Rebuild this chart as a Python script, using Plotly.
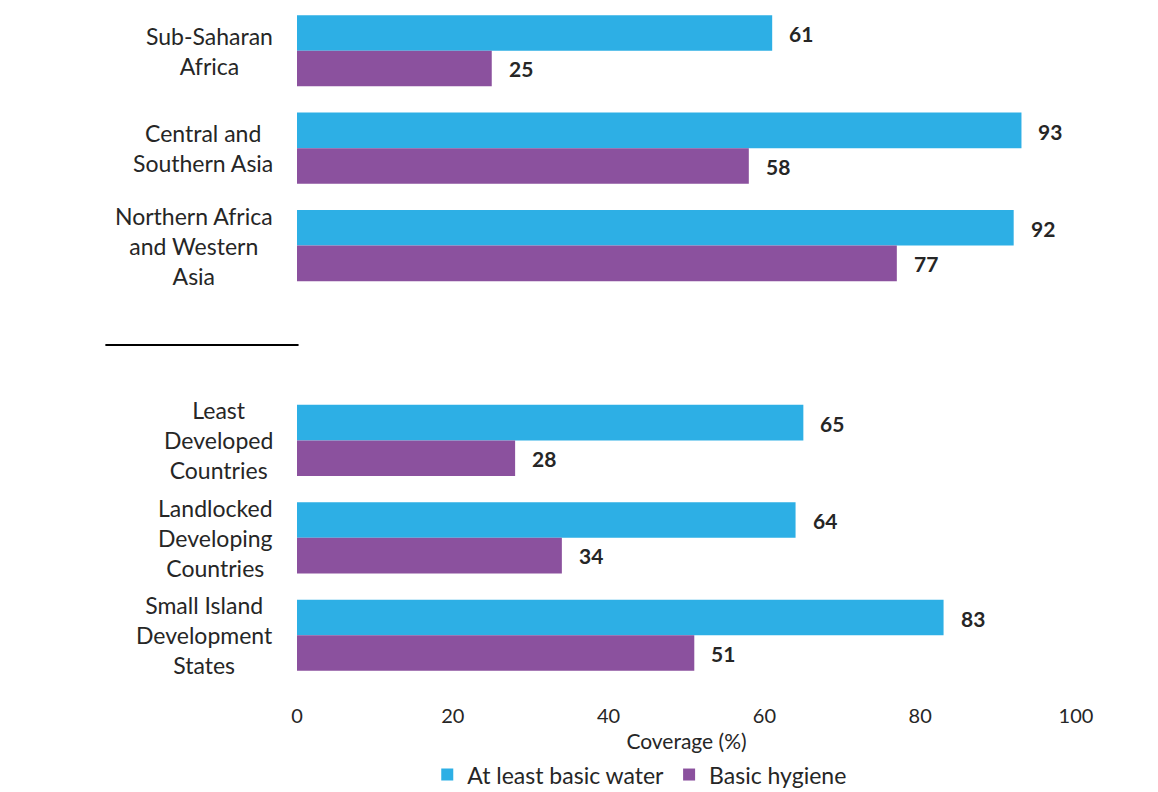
import plotly.graph_objects as go

categories = ["Sub-Saharan<br>Africa", "Central and<br>Southern Asia",
              "Northern Africa<br>and Western<br>Asia", "Least<br>Developed<br>Countries",
              "Landlocked<br>Developing<br>Countries", "Small Island<br>Development<br>States"]
water = [61, 93, 92, 65, 64, 83]
hygiene = [25, 58, 77, 28, 34, 51]
x_ticks = [0, 20, 40, 60, 80, 100]

BLUE = "#2DAFE5"
PURPLE = "#8B519E"
TXT = "#262626"
FONT = "Lato"

# slot positions: an empty slot separates the two groups of regions
pos = [i + (1 if i >= 3 else 0) for i in range(len(categories))]

fig = go.Figure()
fig.add_trace(go.Bar(y=pos, x=water, orientation="h", name="At least basic water",
                     marker=dict(color=BLUE, line=dict(width=0))))
fig.add_trace(go.Bar(y=pos, x=hygiene, orientation="h", name="Basic hygiene",
                     marker=dict(color=PURPLE, line=dict(width=0))))

ann = []
for p, c in zip(pos, categories):
    ann.append(dict(x=0, xref="paper", y=p, yref="y", text=c, showarrow=False,
                    xanchor="right", yanchor="middle", align="center", xshift=-22,
                    font=dict(family=FONT, size=23, color=TXT)))
for p, w, h in zip(pos, water, hygiene):
    ann.append(dict(x=w, y=p, text=str(w), showarrow=False, xanchor="left",
                    yanchor="middle", xshift=15, yshift=17,
                    font=dict(family=FONT, size=21, color=TXT, weight="bold")))
    ann.append(dict(x=h, y=p, text=str(h), showarrow=False, xanchor="left",
                    yanchor="middle", xshift=15, yshift=-18,
                    font=dict(family=FONT, size=21, color=TXT, weight="bold")))

fig.update_layout(
    width=1158, height=792,
    margin=dict(l=297, r=82, t=2, b=108, autoexpand=False),
    paper_bgcolor="white", plot_bgcolor="white",
    barmode="group", bargap=0.27, bargroupgap=0,
    annotations=ann,
    showlegend=True,
    legend=dict(orientation="h", x=0.44, xanchor="center", yref="container",
                y=0.022, yanchor="middle",
                font=dict(family=FONT, size=23, color=TXT), traceorder="normal",
                itemwidth=30),
    xaxis=dict(range=[0, 100], tickvals=x_ticks, showgrid=False, zeroline=False,
               showline=False, ticks="", ticklabelstandoff=18, automargin=False,
               tickfont=dict(family=FONT, size=20, color=TXT),
               title=dict(text="Coverage (%)", standoff=12,
                          font=dict(family=FONT, size=21, color=TXT))),
    yaxis=dict(range=[6.5, -0.5], showticklabels=False, showgrid=False,
               zeroline=False, showline=False, ticks="", automargin=False),
    shapes=[dict(type="line", xref="paper", yref="y", x0=-0.246, x1=0.002,
                 y0=3.02, y1=3.02, line=dict(color="black", width=2))],
)

fig.write_html("out.html")
